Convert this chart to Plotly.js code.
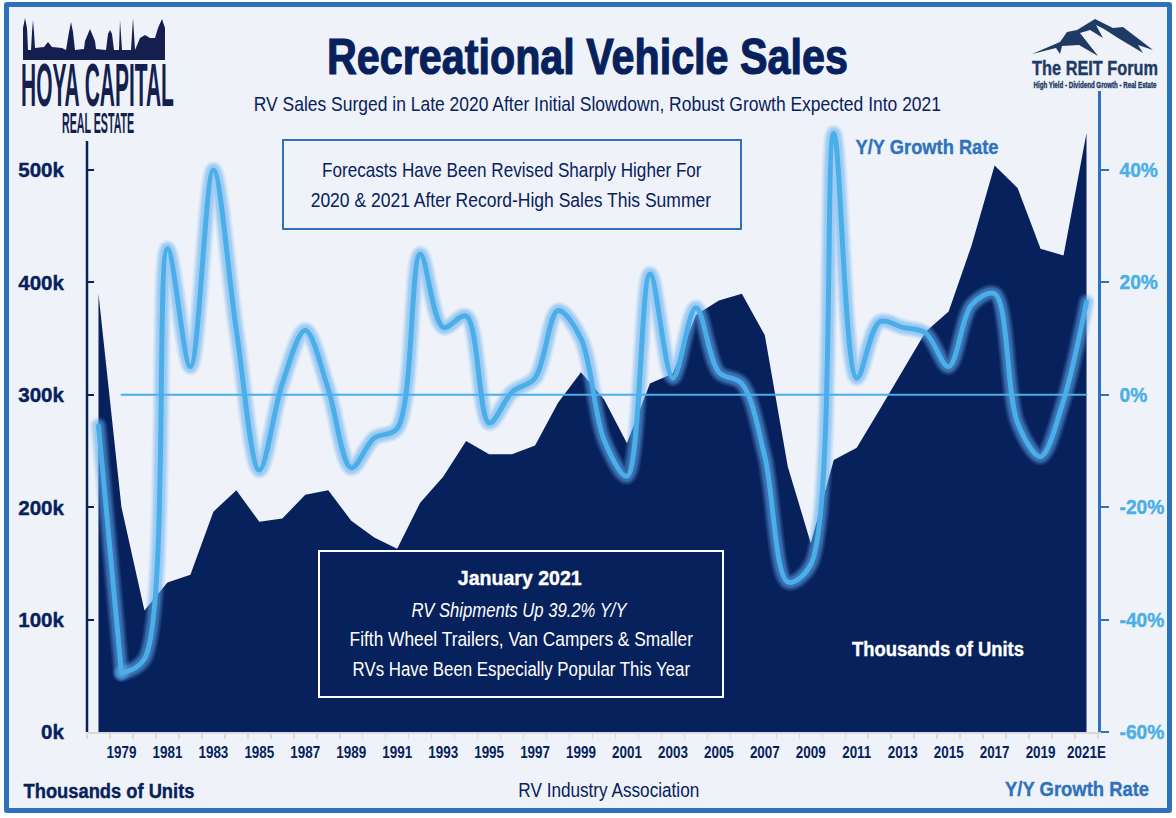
<!DOCTYPE html>
<html><head><meta charset="utf-8">
<script src="https://cdn.plot.ly/plotly-3.0.1.min.js"></script>
<style>
html,body{margin:0;padding:0;background:#fff;width:1176px;height:818px;overflow:hidden}
#frame{position:absolute;left:4px;top:2px;width:1158px;height:801px;border:5px solid #2f72bc;background:#eff3f9;border-radius:3px}
#chart{position:absolute;left:0;top:0;width:1176px;height:818px}
#chart .js-line{stroke-linecap:round}
.ov{position:absolute;white-space:nowrap;transform-origin:0 0;font-family:"Liberation Sans",sans-serif}
svg.ov{overflow:visible}
</style></head><body>
<div id="frame"></div>
<div id="chart"></div>
<svg class="ov" style="left:0;top:0" width="1176" height="60">
<path fill="#141f50" d="M23,60 L23,28 L25,18 L27,28 L28,50 L31,50 L32,32 L33,20 L34,32 L35,48 L44,47 L48,42 L52,47 L62,48 L66,50 L69,32 L71,22 L73,32 L75,50 L84,49 L85,41 L90,29 L95,41 L96,49 L106,50 L108,34 L110,30 L112,34 L114,50 L119,50 L120,20 L122,50 L131,50 L133,18 L135,50 L140,38 L145,35 L150,38 L155,38 L158,28 L162,19 L165,28 L165,60 Z"/>
<path fill="#1f3a64" d="M1032,54 L1060,42 L1067,32 L1077,30 L1095,19 L1113,28 L1123,27 L1153,50 L1138,45 L1143,53 L1118,38 L1104,29 L1096,25 L1103,38 L1090,30 L1080,33 L1098,56 L1079,45 L1062,46 L1060,54 L1056,48 Z"/>
</svg>
<div class="ov" id="hoya" style="left:21px;top:62px;font-size:62px;font-weight:700;color:#141f50;line-height:46px;height:46px;transform:scale(0.338,1)">HOYA CAPITAL</div>
<div class="ov" id="hoya2" style="left:62px;top:111px;font-size:30px;font-weight:700;color:#141f50;line-height:24px;height:24px;transform:scale(0.355,1)">REAL ESTATE</div>
<script>
const years = ['1978','1979','1980','1981','1982','1983','1984','1985','1986','1987','1988','1989','1990','1991','1992','1993','1994','1995','1996','1997','1998','1999','2000','2001','2002','2003','2004','2005','2006','2007','2008','2009','2010','2011','2012','2013','2014','2015','2016','2017','2018','2019','2020','2021'];
const tickLabels = ['','1979','','1981','','1983','','1985','','1987','','1989','','1991','','1993','','1995','','1997','','1999','','2001','','2003','','2005','','2007','','2009','','2011','','2013','','2015','','2017','','2019','','2021E'];
const salesK = [390,200,108,133,140,196,215,187,190,211,215,188,173,163,204,227,259,247,247,255,293,320,296,257,310,319,371,384,390,353,236,168,242,253,287,321,356,374,433,504,484,430,424,533];
const growthPct = [-5.5,-49.5,-47,26,5,40,11.5,-13.4,2,11.5,1,-13,-7.7,-6,25,12,14,-5,0.5,3,15,10,-8,-14.5,21.5,3,15.5,4,2,-11,-33.3,-30.2,46.5,3,13,12,11,5,16,18,-5,-11,-1,16.5];
const zeroYears = years.slice(1);
const zeroLine = zeroYears.map(()=>0);
const leftTicks = [0,100,200,300,400,500];
const leftLabels = ['0k','100k','200k','300k','400k','500k'];
const rightTicks = [-60,-40,-20,0,20,40];
const rightLabels = ['-60%','-40%','-20%','0%','20%','40%'];

const W=1176,H=818,L=87,R=1098,T=91,B=732;
const NAVY='#07215c',BLUE='#2f72bc',SKY='#4aaee8';
const FONT='"Liberation Sans",sans-serif';
const px=x=>(x-L)/(R-L), py=y=>(B-y)/(B-T);
const fitted=[];
const ann=(x,y,text,size,color,w)=>{fitted.push(w);return {xref:'paper',yref:'paper',x:px(x),y:py(y),text,showarrow:false,xanchor:'center',yanchor:'middle',font:{family:FONT,size,color}};};
const bold=t=>'<b>'+t+'</b>';

const curve=(w,c,o)=>[
 {x:years.slice(0,2),y:growthPct.slice(0,2),yaxis:'y2',type:'scatter',mode:'lines',line:{width:w,color:c},opacity:o,showlegend:false},
 {x:years.slice(1),y:growthPct.slice(1),yaxis:'y2',type:'scatter',mode:'lines',line:{shape:'spline',smoothing:0.95,width:w,color:c},opacity:o,showlegend:false}
];
const data=[
 {x:years,y:salesK,type:'scatter',mode:'lines',fill:'tozeroy',fillcolor:NAVY,line:{width:0,color:NAVY},showlegend:false},
 {x:zeroYears,y:zeroLine,yaxis:'y2',type:'scatter',mode:'lines',line:{width:2,color:SKY},showlegend:false},
 ...curve(18,'#62aef2',0.1),...curve(16,'#62aef2',0.12),...curve(14,'#62aef2',0.14),...curve(12,'#62aef2',0.18),...curve(10,'#62aef2',0.22),
 ...curve(5,SKY,1)
];
const annotations=[
  ann(587.5,57,bold('Recreational Vehicle Sales'),50,NAVY,521),
  ann(597,104,'RV Sales Surged in Late 2020 After Initial Slowdown, Robust Growth Expected Into 2021',20,NAVY,688),
  ann(512,170,'Forecasts Have Been Revised Sharply Higher For',20,NAVY,380),
  ann(510.5,200,'2020 &amp; 2021 After Record-High Sales This Summer',20,NAVY,401),
  ann(926.5,146,bold('Y/Y Growth Rate'),21,BLUE,143),
  ann(520,578,bold('January 2021'),19.5,'#ffffff',124),
  ann(519.5,610,'<i>RV Shipments Up 39.2% Y/Y</i>',19.5,'#ffffff',217),
  ann(521,639,'Fifth Wheel Trailers, Van Campers &amp; Smaller',19.5,'#ffffff',344),
  ann(521,669,'RVs Have Been Especially Popular This Year',19.5,'#ffffff',338),
  ann(938,648,bold('Thousands of Units'),21,'#ffffff',172),
  ann(108.5,790,bold('Thousands of Units'),21,NAVY,171),
  ann(608.5,790,'RV Industry Association',19.5,NAVY,181),
  ann(1077,788,bold('Y/Y Growth Rate'),21,BLUE,144),
  ann(1095,68,bold('The REIT Forum'),21,'#1f3a64',126),
  ann(1095,84,bold('High Yield - Dividend Growth - Real Estate'),9.5,'#1f3a64',123)
];
const layout={
 width:W,height:H,margin:{l:L,r:W-R,t:T,b:H-B,pad:0},
 paper_bgcolor:'rgba(0,0,0,0)',plot_bgcolor:'rgba(0,0,0,0)',showlegend:false,
 xaxis:{type:'category',range:[-0.5,43.5],tickmode:'array',tickvals:years,ticktext:tickLabels,tickson:'boundaries',ticks:'outside',ticklen:5,tickwidth:1.5,tickcolor:'#d9d9d9',showline:true,linecolor:'#d9d9d9',linewidth:2,showgrid:false,zeroline:false,tickangle:0,ticklabelstandoff:5,tickfont:{family:FONT,size:16,color:NAVY,weight:700}},
 yaxis:{range:[0,(B-T)/1.124],tickmode:'array',tickvals:leftTicks,ticktext:leftLabels,ticks:'inside',ticklen:7,tickwidth:2,tickcolor:NAVY,showgrid:false,zeroline:false,showline:false,ticklabelstandoff:22,tickfont:{family:FONT,size:21,color:NAVY,weight:700}},
 yaxis2:{overlaying:'y',side:'right',range:[-60,-60+(B-T)/5.62],tickmode:'array',tickvals:rightTicks,ticktext:rightLabels,ticks:'outside',ticklen:8,tickwidth:2,tickcolor:BLUE,showgrid:false,zeroline:false,showline:true,linecolor:BLUE,linewidth:2.5,ticklabelstandoff:7,tickfont:{family:FONT,size:20,color:SKY,weight:700}},
 shapes:[
  {type:'line',xref:'paper',yref:'paper',x0:0,x1:0,y0:py(141),y1:0,line:{color:NAVY,width:2.5}},
  {type:'rect',xref:'paper',yref:'paper',x0:px(283),x1:px(741),y0:py(140),y1:py(229),line:{color:BLUE,width:2},fillcolor:'rgba(0,0,0,0)',layer:'above'},
  {type:'rect',xref:'paper',yref:'paper',x0:px(319),x1:px(723),y0:py(551),y1:py(697),line:{color:'#ffffff',width:2},fillcolor:NAVY,layer:'above'}
 ],
 annotations
};
function squeeze(el,sx,mode){
  const b=el.getBBox();
  const ox=mode==='end'?b.x+b.width:mode==='start'?b.x:b.x+b.width/2;
  const prev=el.getAttribute('transform')||'';
  el.setAttribute('transform',prev+' translate('+ox+',0) scale('+sx+',1) translate('+(-ox)+',0)');
}
function heavy(el,color,w){el.style.stroke=color;el.style.strokeWidth=w+'px';}
Plotly.newPlot('chart',data,layout,{displayModeBar:false,staticPlot:true}).then(gd=>{
  gd.querySelectorAll('.annotation').forEach((g,i)=>{
    const t=g.querySelector('text');
    squeeze(t,fitted[i]/t.getBBox().width,'mid');
    if(t.querySelector('tspan[style*="bold"]')||/<b>/.test(annotations[i].text)) heavy(t,annotations[i].font.color,i===0?1.2:0.4);
  });
  gd.querySelectorAll('.xtick text').forEach(t=>squeeze(t,0.84,'mid'));
  gd.querySelectorAll('.ytick text').forEach(t=>{squeeze(t,0.98,'end');heavy(t,NAVY,0.4);});
  gd.querySelectorAll('.y2tick text').forEach(t=>{squeeze(t,0.96,'start');heavy(t,SKY,0.4);});
});
</script>
</body></html>
